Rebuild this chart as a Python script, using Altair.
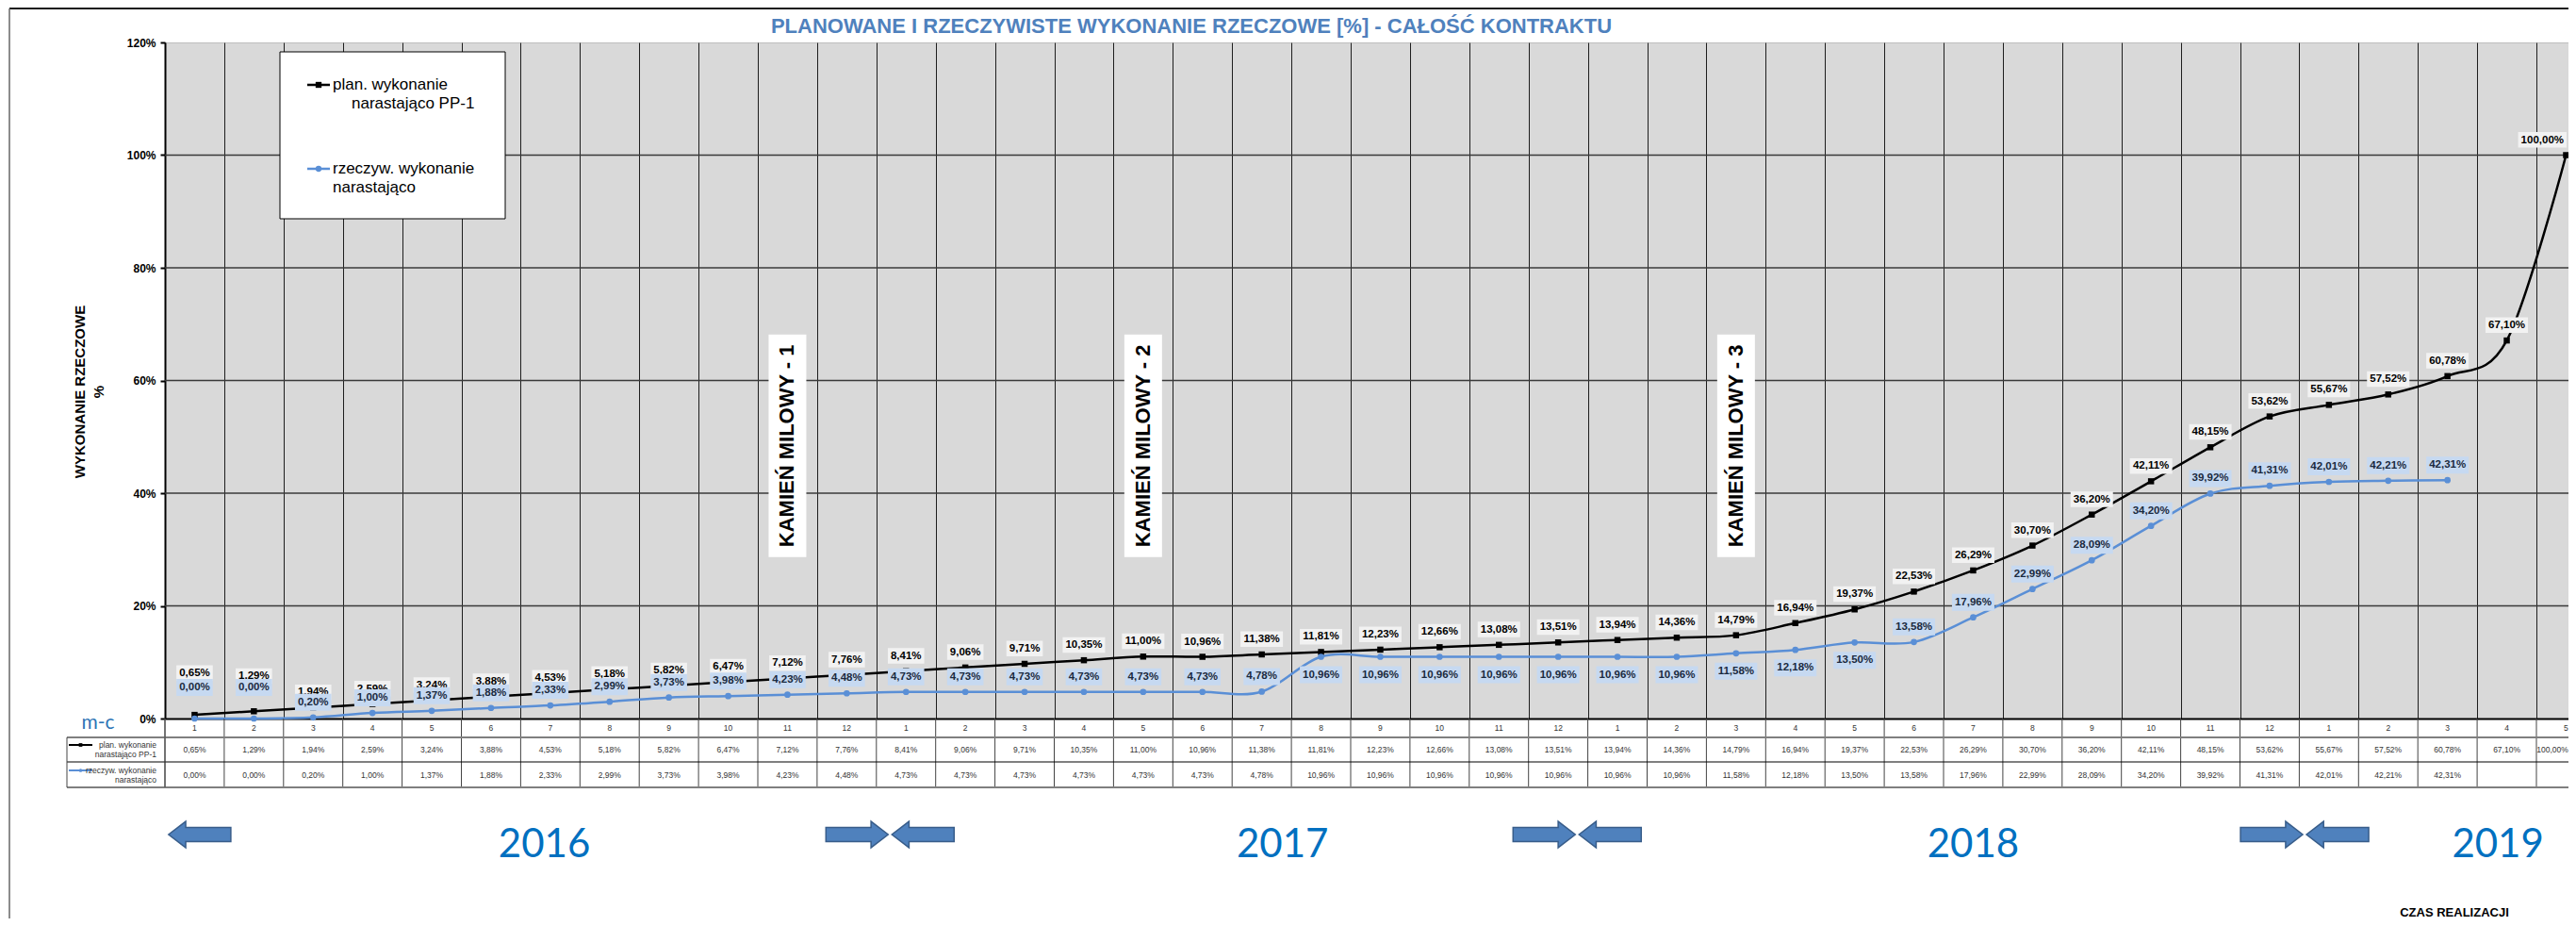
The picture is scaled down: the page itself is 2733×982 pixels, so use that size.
import altair as alt
import pandas as pd

# ---------------- data ----------------
months = [1, 2, 3, 4, 5, 6, 7, 8, 9, 10, 11, 12] * 3 + [1, 2, 3, 4, 5]
plan = [0.65, 1.29, 1.94, 2.59, 3.24, 3.88, 4.53, 5.18, 5.82, 6.47, 7.12, 7.76,
        8.41, 9.06, 9.71, 10.35, 11.00, 10.96, 11.38, 11.81, 12.23, 12.66, 13.08, 13.51,
        13.94, 14.36, 14.79, 16.94, 19.37, 22.53, 26.29, 30.70, 36.20, 42.11, 48.15, 53.62,
        55.67, 57.52, 60.78, 67.10, 100.00]
actual = [0.00, 0.00, 0.20, 1.00, 1.37, 1.88, 2.33, 2.99, 3.73, 3.98, 4.23, 4.48,
          4.73, 4.73, 4.73, 4.73, 4.73, 4.73, 4.78, 10.96, 10.96, 10.96, 10.96, 10.96,
          10.96, 10.96, 11.58, 12.18, 13.50, 13.58, 17.96, 22.99, 28.09, 34.20, 39.92, 41.31,
          42.01, 42.21, 42.31]
y_ticks = [0, 20, 40, 60, 80, 100, 120]
years = ["2016", "2017", "2018", "2019"]
year_col = [6.9, 19.35, 31.0, 39.85]
arrow_left_col = [0.53, 12.73, 24.32, 36.59]
arrow_right_col = [12.73, 24.32, 36.59]
milestones = ["KAMIEŃ MILOWY - 1", "KAMIEŃ MILOWY - 2", "KAMIEŃ MILOWY - 3"]
milestone_col = [11, 17, 27]

TITLE = "PLANOWANE I RZECZYWISTE WYKONANIE RZECZOWE [%] -  CAŁOŚĆ KONTRAKTU"

# ---------------- geometry / style ----------------
FONT = "Liberation Sans"
W, H = 2550, 717
CW = 62.9
X0 = 0.5
X1 = X0 + W / CW
PXPP = H / 120.0
BLUE = "#5a8fd6"
YEAR_BLUE = "#0070c0"
ARROW_FILL = "#4f81bd"
ARROW_STROKE = "#385d8a"


def fmt(v):
    return f"{v:.2f}".replace(".", ",") + "%"


n = len(plan)
df = pd.DataFrame({
    "idx": list(range(1, n + 1)),
    "month": months,
    "plan": plan,
    "actual": actual + [None] * (n - len(actual)),
})
df["plan_lab"] = [fmt(v) for v in plan]
df["act_lab"] = [fmt(v) for v in actual] + [""] * (n - len(actual))

XS = alt.Scale(domain=[X0, X1], nice=False, zero=False)
YS = alt.Scale(domain=[0, 120], nice=False, zero=False)
XAX = alt.Axis(values=[i + 0.5 for i in range(41)], grid=True, gridColor="#1e1e1e",
               gridWidth=1, gridOpacity=1, labels=False, ticks=False, domain=True,
               domainColor="#000000", domainWidth=2, title=None)
YAX = alt.Axis(values=y_ticks, labelExpr="datum.value + '%'", grid=False,
               domainColor="#000000", domainWidth=2, tickColor="#000000", tickSize=5,
               tickWidth=2, labelFont=FONT, labelFontSize=12, labelFontWeight="bold",
               labelColor="#000000", labelPadding=5,
               title=["WYKONANIE RZECZOWE", "%"], titleFont=FONT, titleFontSize=15,
               titleFontWeight="bold", titleColor="#000000", titleAngle=270,
               titleAlign="center", titleBaseline="top", titleX=-98, titleY=370,
               titleLineHeight=20)


def X(f):
    return alt.X(f, type="quantitative", scale=XS, axis=XAX)


def Y(f):
    return alt.Y(f, type="quantitative", scale=YS, axis=YAX)


one = pd.DataFrame({"k": [0]})


def txt(text, x, y, **kw):
    return alt.Chart(one).mark_text(text=text, **kw).encode(x=alt.value(x), y=alt.value(y))


def hrule(x1, x2, y, color, w):
    return alt.Chart(one).mark_rule(color=color, strokeWidth=w).encode(
        x=alt.value(x1), x2=alt.value(x2), y=alt.value(y))


def vrule(x, y1, y2, color, w):
    return alt.Chart(one).mark_rule(color=color, strokeWidth=w).encode(
        x=alt.value(x), y=alt.value(y1), y2=alt.value(y2))


base = alt.Chart(df)

# horizontal grid lines
hgrid = alt.Chart(pd.DataFrame({"v": y_ticks[1:-1]})).mark_rule(
    color="#3a3a3a", strokeWidth=1.5).encode(y=Y("v"))

plan_line = base.mark_line(color="#000000", strokeWidth=2.5, interpolate="cardinal").encode(
    x=X("idx"), y=Y("plan"))
act_valid = base.transform_filter("isValid(datum.actual)")
act_line = act_valid.mark_line(color=BLUE, strokeWidth=2.5, interpolate="cardinal").encode(
    x=X("idx"), y=Y("actual"))
plan_pts = base.mark_square(color="#000000", size=42, opacity=1).encode(x=X("idx"), y=Y("plan"))
act_pts = act_valid.mark_circle(color=BLUE, size=45, opacity=1).encode(x=X("idx"), y=Y("actual"))

# data labels (plan)
plan_lab_base = base.transform_calculate(
    ly=f"datum.plan + (datum.idx == 1 ? 44 : datum.idx == 2 ? 37 : 16) / {PXPP}"
).transform_calculate(
    hw=f"(3.2 * length(datum.plan_lab) + 3.3) / {CW}"
).transform_calculate(
    lx=f"min(datum.idx, {X1} - datum.hw - 2 / {CW})"
).transform_calculate(
    bx1="datum.lx - datum.hw", bx2="datum.lx + datum.hw",
    by1=f"datum.ly - 8 / {PXPP}", by2=f"datum.ly + 8.5 / {PXPP}")
plan_box = plan_lab_base.mark_rect(color="#f2f2f2", opacity=1).encode(
    x=X("bx1"), x2="bx2:Q", y=Y("by1"), y2="by2:Q")
plan_txt = plan_lab_base.mark_text(font=FONT, fontSize=11.5, fontWeight="bold",
                                   color="#000000", baseline="middle").encode(
    x=X("lx"), y=Y("ly"), text="plan_lab:N")

# data labels (actual)
act_lab_base = act_valid.transform_calculate(
    ly=(f"datum.actual + (datum.idx <= 2 ? 33 : (datum.idx >= 20 && datum.idx <= 29) ? -19 : 16)"
        f" / {PXPP}")
).transform_calculate(
    hw=f"(3.2 * length(datum.act_lab) + 3.3) / {CW}"
).transform_calculate(
    bx1="datum.idx - datum.hw", bx2="datum.idx + datum.hw",
    by1=f"datum.ly - 9 / {PXPP}", by2=f"datum.ly + 9 / {PXPP}")
act_box = act_lab_base.mark_rect(color="#c6d9f1", opacity=1).encode(
    x=X("bx1"), x2="bx2:Q", y=Y("by1"), y2="by2:Q")
act_txt = act_lab_base.mark_text(font=FONT, fontSize=11.5, fontWeight="bold",
                                 color="#1a2a40", baseline="middle").encode(
    x=X("idx"), y=Y("ly"), text="act_lab:N")

# milestones
MY = 48.4
ms = alt.Chart(pd.DataFrame({"name": milestones, "col": milestone_col})).transform_calculate(
    my=f"{MY}", bx1=f"datum.col - 20 / {CW}", bx2=f"datum.col + 20 / {CW}",
    by1=f"{MY} - 118 / {PXPP}", by2=f"{MY} + 118 / {PXPP}")
ms_box = ms.mark_rect(color="#ffffff", opacity=1).encode(
    x=X("bx1"), x2="bx2:Q", y=Y("by1"), y2="by2:Q")
ms_txt = ms.mark_text(font=FONT, fontSize=22, fontWeight="bold", color="#000000",
                      angle=270, align="center", baseline="middle").encode(
    x=X("col"), y=Y("my"), text="name:N")

# legend
leg_box = alt.Chart(one).mark_rect(fill="#ffffff", stroke="#000000", strokeWidth=1).encode(
    x=alt.value(122), x2=alt.value(361), y=alt.value(10), y2=alt.value(187))
leg_layers = [
    leg_box,
    hrule(151, 175, 45, "#000000", 2.5),
    alt.Chart(one).mark_square(color="#000000", size=40, opacity=1).encode(
        x=alt.value(163), y=alt.value(45)),
    hrule(151, 175, 134, BLUE, 2.5),
    alt.Chart(one).mark_circle(color=BLUE, size=40, opacity=1).encode(
        x=alt.value(163), y=alt.value(134)),
    txt("plan. wykonanie", 178, 45, font=FONT, fontSize=17, align="left", baseline="middle", color="#000"),
    txt("narastająco PP-1", 198, 65, font=FONT, fontSize=17, align="left", baseline="middle", color="#000"),
    txt("rzeczyw. wykonanie", 178, 134, font=FONT, fontSize=17, align="left", baseline="middle", color="#000"),
    txt("narastająco", 178, 154, font=FONT, fontSize=17, align="left", baseline="middle", color="#000"),
]

# data table below plot
tab_base = base.transform_calculate(tx=f"min(datum.idx, {X1} - 17 / {CW})")
tab_month = base.mark_text(font=FONT, fontSize=8.5, color="#333333", baseline="middle").encode(
    x=X("idx"), y=alt.value(H + 10), text="month:N")
tab_plan = tab_base.mark_text(font=FONT, fontSize=8.5, color="#333333", baseline="middle").encode(
    x=X("tx"), y=alt.value(H + 33), text="plan_lab:N")
tab_act = base.mark_text(font=FONT, fontSize=8.5, color="#333333", baseline="middle").encode(
    x=X("idx"), y=alt.value(H + 60), text="act_lab:N")
tab_v = alt.Chart(pd.DataFrame({"b": [i + 0.5 for i in range(41)]})).mark_rule(
    color="#444444", strokeWidth=1).encode(x=X("b"), y=alt.value(H), y2=alt.value(H + 73))
tab_layers = [
    tab_v,
    hrule(-104, W, H + 20, "#7f7f7f", 2),
    hrule(-104, W, H + 46, "#000000", 1),
    hrule(-104, W, H + 73, "#7f7f7f", 2),
    vrule(-104, H + 20, H + 73, "#444444", 1),
    vrule(0, H, H + 73, "#444444", 1),
    tab_month, tab_plan, tab_act,
    hrule(-102, -77, H + 28, "#000000", 2),
    alt.Chart(one).mark_square(color="#000000", size=14, opacity=1).encode(
        x=alt.value(-89.5), y=alt.value(H + 28)),
    hrule(-102, -77, H + 55, BLUE, 2),
    alt.Chart(one).mark_circle(color=BLUE, size=14, opacity=1).encode(
        x=alt.value(-89.5), y=alt.value(H + 55)),
    txt("plan. wykonanie", -9, H + 28, font=FONT, fontSize=8.5, align="right", baseline="middle", color="#333"),
    txt("narastająco PP-1", -9, H + 38, font=FONT, fontSize=8.5, align="right", baseline="middle", color="#333"),
    txt("rzeczyw. wykonanie", -9, H + 55, font=FONT, fontSize=8.5, align="right", baseline="middle", color="#333"),
    txt("narastająco", -9, H + 65, font=FONT, fontSize=8.5, align="right", baseline="middle", color="#333"),
]

# years and arrows
year_txt = alt.Chart(pd.DataFrame({"y": years, "c": year_col})).mark_text(
    font="Lato", fontSize=42, color=YEAR_BLUE, baseline="middle").encode(
    x=X("c"), y=alt.value(H + 134), text="y:N")
RIGHT_ARROW = "M-1,-0.23L0.45,-0.23L0.45,-0.42L1,0L0.45,0.42L0.45,0.23L-1,0.23Z"
LEFT_ARROW = "M1,-0.23L-0.45,-0.23L-0.45,-0.42L-1,0L-0.45,0.42L-0.45,0.23L1,0.23Z"
arr_l = alt.Chart(pd.DataFrame({"c": arrow_left_col})).mark_point(
    shape=LEFT_ARROW, size=66 * 66, filled=True, fill=ARROW_FILL, stroke=ARROW_STROKE,
    strokeWidth=1.5, opacity=1, xOffset=35).encode(x=X("c"), y=alt.value(H + 123))
arr_r = alt.Chart(pd.DataFrame({"c": arrow_right_col})).mark_point(
    shape=RIGHT_ARROW, size=66 * 66, filled=True, fill=ARROW_FILL, stroke=ARROW_STROKE,
    strokeWidth=1.5, opacity=1, xOffset=-35).encode(x=X("c"), y=alt.value(H + 123))

misc = [
    txt(TITLE, 1089, -17, font=FONT, fontSize=22, fontWeight="bold", color="#4f81bd",
        align="center", baseline="middle"),
    txt("m-c", -71, H + 5, font="Lato", fontSize=21, color="#2e75b6", align="center", baseline="middle"),
    txt("CZAS REALIZACJI", 2429, H + 206, font=FONT, fontSize=13, fontWeight="bold",
        color="#000", align="center", baseline="middle"),
    hrule(-165, W, -36, "#1a1a1a", 2),
    vrule(-165, -36, H + 212, "#666666", 1.5),
]

chart = alt.layer(
    hgrid, plan_line, act_line, plan_pts, act_pts,
    plan_box, plan_txt, act_box, act_txt,
    ms_box, ms_txt,
    *leg_layers, *tab_layers, year_txt, arr_l, arr_r, *misc,
).properties(
    width=W, height=H,
    autosize=alt.AutoSizeParams(type="none"),
    padding={"left": 167, "top": 37, "right": 0, "bottom": 212},
    background="#ffffff",
).configure_view(fill="#d9d9d9", stroke="#bdbdbd", strokeWidth=1)

chart.save("out.html", embed_options={"renderer": "svg", "actions": False})
